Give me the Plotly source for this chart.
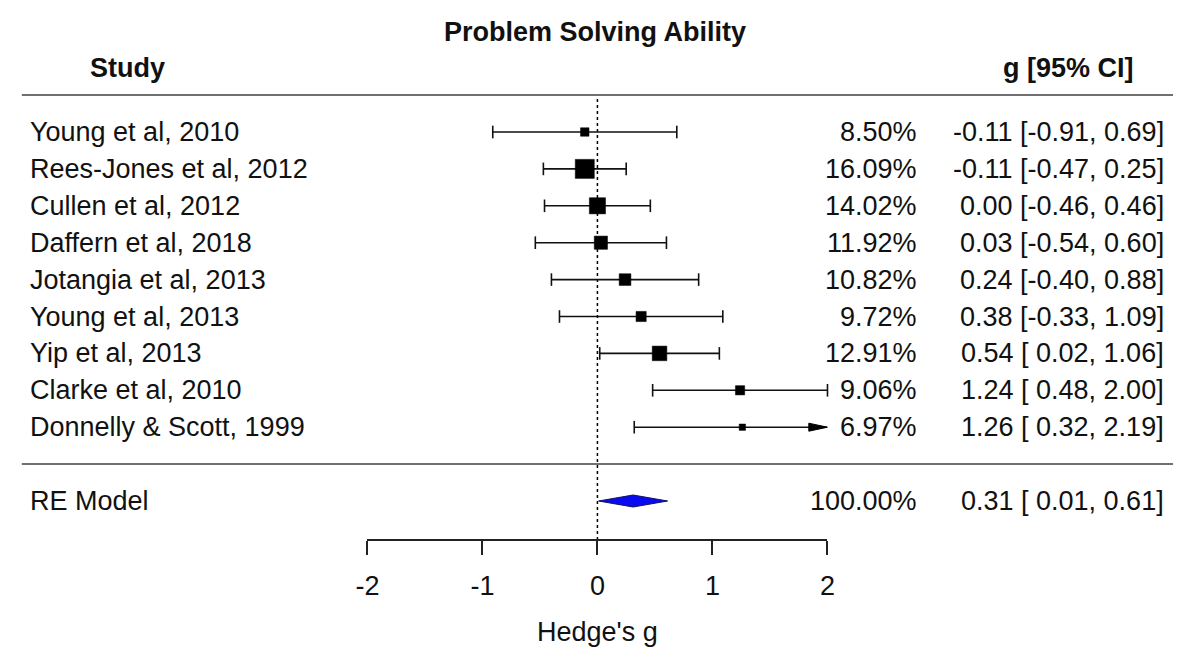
import plotly.graph_objects as go

# ---------------- data ----------------
studies = ["Young et al, 2010", "Rees-Jones et al, 2012", "Cullen et al, 2012",
           "Daffern et al, 2018", "Jotangia et al, 2013", "Young et al, 2013",
           "Yip et al, 2013", "Clarke et al, 2010", "Donnelly & Scott, 1999"]
g_est = [-0.11, -0.11, 0.00, 0.03, 0.24, 0.38, 0.54, 1.24, 1.26]
ci_lo = [-0.91, -0.47, -0.46, -0.54, -0.40, -0.33, 0.02, 0.48, 0.32]
ci_hi = [0.69, 0.25, 0.46, 0.60, 0.88, 1.09, 1.06, 2.00, 2.19]
weights = [8.50, 16.09, 14.02, 11.92, 10.82, 9.72, 12.91, 9.06, 6.97]

re_label = "RE Model"
re_est, re_lo, re_hi, re_w = 0.31, 0.01, 0.61, 100.00

x_ticks = [-2, -1, 0, 1, 2]
title_text = "Problem Solving Ability"
x_title = "Hedge's g"

# ---------------- layout constants ----------------
W, H = 1183, 666
X0_PX, PXU = 595.5, 117.0          # pixel of g=0, pixels per unit
ROW9_PX, ROW_PX = 132.0, 36.9      # pixel of first row, pixels per row
XMIN, XMAX = -2, 2
FONT = "Liberation Sans, Arial, Helvetica, sans-serif"
FS = 27

k = len(studies)
rows = list(range(k, 0, -1))       # k..1
re_row = -1

def py(px):  # pixel y -> data y
    return k + (ROW9_PX - px) / ROW_PX

def ppx(px):  # pixel x -> paper x
    return px / W

y_top = py(0)
y_bot = py(H)
axis_y = py(540)

fig = go.Figure()

# reference dotted line
fig.add_trace(go.Scatter(x=[0, 0], y=[axis_y, k + 1], mode="lines",
                         line=dict(color="black", width=1.5, dash="dot"),
                         hoverinfo="skip", showlegend=False, cliponaxis=False))

# CI lines
lx, ly = [], []
cap_x, cap_y = [], []
arr_rows = []
for r, lo, hi in zip(rows, ci_lo, ci_hi):
    hc = min(hi, XMAX)
    lc = max(lo, XMIN)
    lx += [lc, hc, None]
    ly += [r, r, None]
    if lo >= XMIN:
        cap_x.append(lo); cap_y.append(r)
    if hi <= XMAX:
        cap_x.append(hi); cap_y.append(r)
    else:
        arr_rows.append(r)

fig.add_trace(go.Scatter(x=lx, y=ly, mode="lines",
                         line=dict(color="#111111", width=1.6),
                         hoverinfo="skip", showlegend=False, cliponaxis=False))
fig.add_trace(go.Scatter(x=cap_x, y=cap_y, mode="markers",
                         marker=dict(symbol="line-ns", size=9, opacity=1,
                                     line=dict(color="#111111", width=1.6)),
                         hoverinfo="skip", showlegend=False, cliponaxis=False))

# truncation arrows (thin triangles ending at the axis limit)
alen, ahalf = 19 / PXU, 4 / ROW_PX
for r in arr_rows:
    fig.add_trace(go.Scatter(x=[XMAX - alen, XMAX, XMAX - alen, XMAX - alen],
                             y=[r + ahalf, r, r - ahalf, r + ahalf],
                             mode="lines", fill="toself", fillcolor="#000000",
                             line=dict(color="#000000", width=1),
                             hoverinfo="skip", showlegend=False, cliponaxis=False))

# squares sized by weight
wmin, wmax = min(weights), max(weights)
sizes = [12.7 * (0.5 + (w - wmin) / (wmax - wmin)) for w in weights]
fig.add_trace(go.Scatter(x=g_est, y=rows, mode="markers",
                         marker=dict(symbol="square", size=sizes, color="#000000",
                                     opacity=1, line=dict(width=0.5, color="#000000")),
                         hoverinfo="skip", showlegend=False, cliponaxis=False))

# RE diamond
dh = 6 / ROW_PX
fig.add_trace(go.Scatter(x=[re_lo, re_est, re_hi, re_est, re_lo],
                         y=[re_row, re_row + dh, re_row, re_row - dh, re_row],
                         mode="lines", fill="toself", fillcolor="#0a0af0",
                         line=dict(color="#101060", width=1),
                         hoverinfo="skip", showlegend=False))

# dummy for axis
fig.add_trace(go.Scatter(x=[XMIN, XMAX], y=[y_bot, y_bot], mode="markers",
                         marker=dict(opacity=0), hoverinfo="skip", showlegend=False))

# separator lines
for yy in [k + 1, 0]:
    fig.add_shape(type="line", xref="paper", yref="y",
                  x0=10 / W, x1=1181 / W, y0=yy, y1=yy,
                  line=dict(color="#707070", width=2))

ann = []
tf = dict(family=FONT, size=FS, color="#111111")
x_lab = ppx(16)
x_pct = ppx(923)
x_ci = ppx(1174)

def fmt_ci(e, l, h):
    return f"{e:.2f} [{l:5.2f}, {h:.2f}]"

for r, s, e, l, h, w in zip(rows, studies, g_est, ci_lo, ci_hi, weights):
    ann.append(dict(x=x_lab, y=r, text=s, xanchor="left"))
    ann.append(dict(x=x_pct, y=r, text=f"{w:.2f}%", xanchor="right"))
    ann.append(dict(x=x_ci, y=r, text=fmt_ci(e, l, h).replace("[ ", "[&nbsp;"),
                    xanchor="right"))
ann.append(dict(x=x_lab, y=re_row, text=re_label, xanchor="left"))
ann.append(dict(x=x_pct, y=re_row, text=f"{re_w:.2f}%", xanchor="right"))
ann.append(dict(x=x_ci, y=re_row, text=fmt_ci(re_est, re_lo, re_hi).replace("[ ", "[&nbsp;"),
                xanchor="right"))
# headers
ann.append(dict(x=ppx(117), y=py(68), text="<b>Study</b>", xanchor="center"))
ann.append(dict(x=ppx(1143), y=py(68), text="<b>g [95% CI]</b>", xanchor="right"))
ann.append(dict(x=ppx(X0_PX - 2), y=py(32), text=f"<b>{title_text}</b>", xanchor="center"))
# axis title
ann.append(dict(x=ppx(X0_PX), y=py(632), text=x_title, xanchor="center"))

for a in ann:
    a.update(xref="paper", yref="y", yanchor="middle", showarrow=False, font=tf)

fig.update_layout(
    width=W, height=H, autosize=False,
    margin=dict(l=0, r=0, t=0, b=0),
    paper_bgcolor="white", plot_bgcolor="white",
    annotations=ann,
    xaxis=dict(domain=[(X0_PX + XMIN * PXU) / W, (X0_PX + XMAX * PXU) / W],
               range=[XMIN, XMAX], anchor="free", position=1 - 540 / H,
               showgrid=False, zeroline=False, showline=True,
               linecolor="#222222", linewidth=1.5,
               ticks="outside", ticklen=14, tickwidth=1.5, tickcolor="#222222",
               tickvals=x_ticks, ticktext=[str(t) for t in x_ticks],
               tickfont=tf, ticklabelstandoff=8, fixedrange=True),
    yaxis=dict(domain=[0, 1], range=[y_bot, y_top], visible=False, fixedrange=True),
    showlegend=False,
)

fig.write_html("out.html")
